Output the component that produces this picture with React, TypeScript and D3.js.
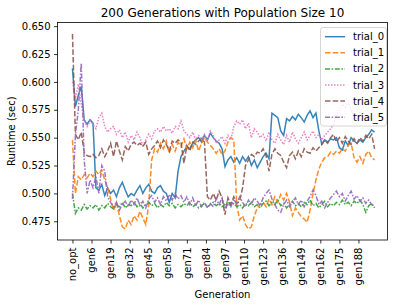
import React from 'react';
import * as d3 from 'd3';
import { useEffect, useRef } from 'react';

// x positions are category indices (no_opt = 0), sampled every 2nd generation
const step = 2;

const tickLabels = ['no_opt', 'gen6', 'gen19', 'gen32', 'gen45', 'gen58', 'gen71', 'gen84',
    'gen97', 'gen110', 'gen123', 'gen136', 'gen149', 'gen162', 'gen175', 'gen188'];
const tickEvery = 13;

const yTicks = [0.475, 0.5, 0.525, 0.55, 0.575, 0.6, 0.625, 0.65];

const trial0 = [0.612, 0.578, 0.588, 0.596, 0.566, 0.562, 0.566, 0.563, 0.505, 0.503,
    0.508, 0.498, 0.505, 0.500, 0.503, 0.497, 0.505, 0.510, 0.503, 0.497,
    0.500, 0.498, 0.503, 0.507, 0.500, 0.505, 0.508, 0.502, 0.500, 0.505,
    0.507, 0.502, 0.500, 0.492, 0.500, 0.496, 0.520, 0.533, 0.538, 0.542,
    0.540, 0.545, 0.548, 0.550, 0.546, 0.552, 0.548, 0.554, 0.550, 0.547,
    0.545, 0.540, 0.524, 0.530, 0.533, 0.528, 0.532, 0.527, 0.533, 0.529,
    0.533, 0.525, 0.530, 0.523, 0.528, 0.533, 0.536, 0.531, 0.572, 0.570,
    0.568, 0.556, 0.552, 0.567, 0.565, 0.569, 0.566, 0.571, 0.568, 0.564,
    0.570, 0.574, 0.568, 0.572, 0.556, 0.544, 0.548, 0.546, 0.549, 0.548,
    0.550, 0.541, 0.539, 0.547, 0.543, 0.550, 0.547, 0.545, 0.548, 0.546,
    0.550, 0.553, 0.557, 0.555];

const trial1 = [0.548, 0.500, 0.515, 0.512, 0.517, 0.514, 0.518, 0.515, 0.520, 0.517,
    0.521, 0.512, 0.505, 0.495, 0.485, 0.492, 0.480, 0.470, 0.468, 0.476,
    0.472, 0.480, 0.476, 0.484, 0.478, 0.472, 0.490, 0.530, 0.540, 0.537,
    0.545, 0.540, 0.547, 0.536, 0.544, 0.538, 0.546, 0.542, 0.549, 0.540,
    0.546, 0.541, 0.548, 0.538, 0.545, 0.550, 0.546, 0.543, 0.540, 0.536,
    0.540, 0.535, 0.538, 0.546, 0.550, 0.548, 0.490, 0.476, 0.480, 0.472,
    0.468, 0.470, 0.480, 0.487, 0.490, 0.492, 0.488, 0.495, 0.490, 0.497,
    0.492, 0.499, 0.494, 0.500, 0.492, 0.480, 0.487, 0.483, 0.479, 0.477,
    0.474, 0.485, 0.500, 0.512, 0.522, 0.528, 0.532, 0.533, 0.537, 0.535,
    0.538, 0.536, 0.540, 0.538, 0.543, 0.545, 0.532, 0.528, 0.533, 0.527,
    0.535, 0.538, 0.532, 0.530];

const trial2 = [0.500, 0.482, 0.487, 0.485, 0.490, 0.486, 0.489, 0.487, 0.490, 0.485,
    0.489, 0.487, 0.491, 0.488, 0.486, 0.490, 0.488, 0.492, 0.487, 0.490,
    0.489, 0.492, 0.488, 0.491, 0.487, 0.490, 0.492, 0.489, 0.491, 0.487,
    0.490, 0.488, 0.492, 0.489, 0.491, 0.487, 0.490, 0.488, 0.491, 0.489,
    0.492, 0.488, 0.490, 0.487, 0.489, 0.491, 0.488, 0.490, 0.492, 0.489,
    0.491, 0.488, 0.490, 0.493, 0.489, 0.491, 0.488, 0.490, 0.487, 0.491,
    0.489, 0.492, 0.488, 0.490, 0.487, 0.491, 0.493, 0.489, 0.492, 0.490,
    0.494, 0.489, 0.491, 0.487, 0.490, 0.493, 0.489, 0.491, 0.488, 0.492,
    0.490, 0.494, 0.489, 0.491, 0.487, 0.490, 0.493, 0.488, 0.491, 0.489,
    0.492, 0.490, 0.494, 0.490, 0.492, 0.489, 0.493, 0.491, 0.494, 0.490,
    0.483, 0.489, 0.491, 0.487];

const trial3 = [0.600, 0.585, 0.598, 0.580, 0.566, 0.560, 0.565, 0.562, 0.558, 0.568,
    0.572, 0.560, 0.555, 0.558, 0.560, 0.553, 0.557, 0.550, 0.555, 0.546,
    0.552, 0.548, 0.555, 0.550, 0.543, 0.548, 0.553, 0.549, 0.556, 0.558,
    0.555, 0.560, 0.556, 0.558, 0.554, 0.560, 0.558, 0.565, 0.556, 0.553,
    0.550, 0.555, 0.548, 0.552, 0.549, 0.553, 0.547, 0.556, 0.552, 0.545,
    0.548, 0.551, 0.545, 0.552, 0.548, 0.560, 0.565, 0.562, 0.566, 0.558,
    0.563, 0.550, 0.558, 0.555, 0.550, 0.553, 0.547, 0.555, 0.548, 0.545,
    0.553, 0.548, 0.544, 0.552, 0.546, 0.555, 0.549, 0.545, 0.550, 0.555,
    0.548, 0.552, 0.556, 0.550, 0.553, 0.548, 0.552, 0.555, 0.558, 0.562,
    0.570, 0.575, 0.580, 0.577, 0.582, 0.575, 0.570, 0.566, 0.572, 0.568,
    0.565, 0.570, 0.567, 0.562];

const trial4 = [0.643, 0.553, 0.548, 0.555, 0.537, 0.534, 0.533, 0.535, 0.532, 0.534,
    0.540, 0.533, 0.538, 0.545, 0.533, 0.547, 0.538, 0.530, 0.542, 0.538,
    0.544, 0.546, 0.543, 0.545, 0.542, 0.546, 0.535, 0.540, 0.543, 0.547,
    0.541, 0.548, 0.544, 0.538, 0.547, 0.545, 0.548, 0.546, 0.527, 0.543,
    0.538, 0.546, 0.544, 0.547, 0.549, 0.546, 0.497, 0.494, 0.500, 0.494,
    0.502, 0.496, 0.481, 0.496, 0.490, 0.497, 0.491, 0.493, 0.505, 0.525,
    0.530, 0.535, 0.533, 0.537, 0.536, 0.540, 0.534, 0.520, 0.535, 0.540,
    0.536, 0.534, 0.528, 0.523, 0.534, 0.537, 0.531, 0.538, 0.533, 0.540,
    0.537, 0.536, 0.541, 0.538, 0.541, 0.544, 0.548, 0.545, 0.550, 0.553,
    0.546, 0.550, 0.545, 0.551, 0.547, 0.544, 0.549, 0.545, 0.550, 0.547,
    0.552, 0.549, 0.553, 0.540];

const trial5 = [0.495, 0.552, 0.575, 0.617, 0.530, 0.500, 0.512, 0.505, 0.515, 0.500,
    0.525, 0.520, 0.497, 0.492, 0.488, 0.492, 0.485, 0.490, 0.493, 0.488,
    0.494, 0.490, 0.496, 0.489, 0.493, 0.487, 0.495, 0.498, 0.492, 0.496,
    0.490, 0.497, 0.493, 0.499, 0.494, 0.500, 0.495, 0.498, 0.492, 0.497,
    0.490, 0.496, 0.489, 0.494, 0.488, 0.492, 0.487, 0.491, 0.488, 0.495,
    0.490, 0.496, 0.486, 0.491, 0.488, 0.495, 0.490, 0.497, 0.492, 0.488,
    0.494, 0.490, 0.496, 0.493, 0.489, 0.496, 0.500, 0.503, 0.495, 0.490,
    0.485, 0.483, 0.490, 0.494, 0.488, 0.492, 0.496, 0.490, 0.494, 0.488,
    0.493, 0.497, 0.503, 0.498, 0.490, 0.493, 0.487, 0.492, 0.496, 0.499,
    0.502, 0.497, 0.500, 0.493, 0.498, 0.502, 0.495, 0.498, 0.493, 0.496,
    0.491, 0.494, 0.490, 0.489];

const seriesNames = ['trial_0', 'trial_1', 'trial_2', 'trial_3', 'trial_4', 'trial_5'];
const seriesValues = [trial0, trial1, trial2, trial3, trial4, trial5];
const colours = ['#1f77b4', '#ff7f0e', '#2ca02c', '#e377c2', '#8c564b', '#9467bd'];
const dashes = ['', '5.5,2.2', '5,1.6,1.6,1.6', '1.5,1.5', '5.5,2.2', '5,1.6,1.6,1.6'];

const width = 398;
const height = 306;

const App = () => {
    const chartRef = useRef<SVGSVGElement | null>(null);

    useEffect((): void => {
        const svg = d3.select(chartRef.current);
        svg.selectAll('*').remove();

        const left = 57.5, right = 387.5, top = 22.5, bottom = 240;

        const xScale = d3.scaleLinear()
            .domain([-10.2, 214.8])
            .range([left, right]);

        const yScale = d3.scaleLinear()
            .domain([0.4582, 0.6533])
            .range([bottom, top]);

        const font = 'DejaVu Sans';

        const line = d3.line<number>()
            .x((d, i) => xScale(i * step))
            .y(d => yScale(d));

        const plot = svg.append('g');
        seriesValues.forEach((vals, s) => {
            plot.append('path')
                .datum(vals)
                .attr('d', line)
                .attr('fill', 'none')
                .attr('stroke', colours[s])
                .attr('stroke-opacity', 0.9)
                .attr('stroke-width', 1.5)
                .attr('stroke-dasharray', dashes[s] || null);
        });

        // frame
        svg.append('rect')
            .attr('x', left)
            .attr('y', top)
            .attr('width', right - left)
            .attr('height', bottom - top)
            .attr('fill', 'none')
            .attr('stroke', '#000')
            .attr('stroke-width', 0.8);

        const yAxis = d3.axisLeft(yScale)
            .tickValues(yTicks)
            .tickSize(3.5)
            .tickPadding(3.5)
            .tickFormat(d => (d as number).toFixed(3));

        const yg = svg.append('g')
            .attr('transform', `translate(${left},0)`)
            .call(yAxis);
        yg.select('.domain').remove();
        yg.selectAll('line').attr('stroke', '#000').attr('stroke-width', 0.8);
        yg.selectAll('text').style('font-family', font).style('font-size', '10px').attr('fill', '#000');

        const xAxis = d3.axisBottom(xScale)
            .tickValues(tickLabels.map((_, i) => i * tickEvery))
            .tickSize(3.5)
            .tickFormat((d, i) => tickLabels[i]);

        const xg = svg.append('g')
            .attr('transform', `translate(0,${bottom})`)
            .call(xAxis);
        xg.select('.domain').remove();
        xg.selectAll('line').attr('stroke', '#000').attr('stroke-width', 0.8);
        xg.selectAll('text')
            .style('font-family', font)
            .style('font-size', '10px')
            .attr('fill', '#000')
            .attr('transform', 'rotate(-90)')
            .attr('x', -7.5)
            .attr('y', 0)
            .attr('dy', '0.32em')
            .style('text-anchor', 'end');

        svg.append('text')
            .attr('x', (left + right) / 2)
            .attr('y', 17)
            .style('text-anchor', 'middle')
            .style('font-family', font)
            .style('font-size', '12px')
            .text('200 Generations with Population Size 10');

        svg.append('text')
            .attr('x', (left + right) / 2)
            .attr('y', 298)
            .style('text-anchor', 'middle')
            .style('font-family', font)
            .style('font-size', '10px')
            .text('Generation');

        svg.append('text')
            .attr('transform', `translate(14.5,${(top + bottom) / 2}) rotate(-90)`)
            .style('text-anchor', 'middle')
            .style('font-family', font)
            .style('font-size', '10px')
            .text('Runtime (sec)');

        // legend
        const lg = svg.append('g');
        lg.append('rect')
            .attr('x', 320.5)
            .attr('y', 27.5)
            .attr('width', 66)
            .attr('height', 98.5)
            .attr('rx', 2.5)
            .attr('fill', '#fff')
            .attr('fill-opacity', 0.8)
            .attr('stroke', '#cccccc')
            .attr('stroke-width', 0.8);

        seriesNames.forEach((name, s) => {
            const y = 36.7 + s * 16.1;
            lg.append('line')
                .attr('x1', 325)
                .attr('x2', 345)
                .attr('y1', y)
                .attr('y2', y)
                .attr('stroke', colours[s])
                .attr('stroke-opacity', 0.9)
                .attr('stroke-width', 1.5)
                .attr('stroke-dasharray', dashes[s] || null);
            lg.append('text')
                .attr('x', 353)
                .attr('y', y)
                .attr('dy', '0.35em')
                .style('font-family', font)
                .style('font-size', '10px')
                .text(name);
        });
    }, []);

    return (
        <svg ref={chartRef} width={width} height={height} style={{ display: 'block', position: 'absolute', left: 0, top: 0 }}></svg>
    );
};

export default App;
